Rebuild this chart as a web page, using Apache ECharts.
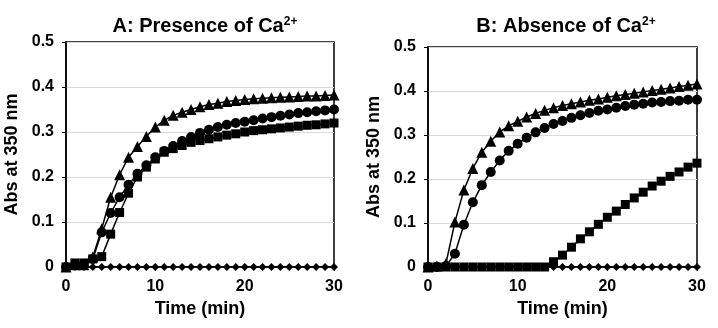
<!DOCTYPE html>
<html>
<head>
<meta charset="utf-8">
<script src="https://cdn.jsdelivr.net/npm/echarts@6/dist/echarts.min.js"></script>
<style>
  html, body { margin: 0; padding: 0; background: #fff; }
  #chart { width: 718px; height: 328px; }
</style>
</head>
<body>
<div id="chart"></div>
<script>
// time in minutes, one reading per minute
var time = [0,1,2,3,4,5,6,7,8,9,10,11,12,13,14,15,16,17,18,19,20,21,22,23,24,25,26,27,28,29,30]

// A: presence of Ca2+
var triA = [0,0.005,0.005,0.022,0.085,0.155,0.205,0.244,0.268,0.29,0.311,0.326,0.337,0.344,0.35,0.356,0.361,0.364,0.368,0.37,0.372,0.374,0.375,0.376,0.377,0.378,0.379,0.38,0.38,0.381,0.382]
var circA = [0,0.005,0.005,0.018,0.077,0.12,0.155,0.183,0.207,0.226,0.244,0.258,0.269,0.28,0.289,0.298,0.305,0.311,0.316,0.32,0.323,0.326,0.33,0.333,0.336,0.339,0.342,0.344,0.346,0.348,0.35]
var sqA = [0,0.009,0.009,0.018,0.023,0.073,0.121,0.164,0.2,0.222,0.24,0.255,0.263,0.27,0.277,0.281,0.285,0.289,0.293,0.296,0.3,0.303,0.305,0.307,0.309,0.311,0.313,0.315,0.316,0.318,0.32]
var diaA = [0,0,0,0,0,0,0,0,0,0,0,0,0,0,0,0,0,0,0,0,0,0,0,0,0,0,0,0,0,0,0]

// B: absence of Ca2+
var triB = [0,0.002,0.008,0.102,0.175,0.224,0.261,0.286,0.307,0.321,0.331,0.341,0.349,0.356,0.362,0.367,0.371,0.375,0.379,0.382,0.386,0.389,0.392,0.395,0.398,0.401,0.404,0.407,0.41,0.413,0.416]
var circB = [0,0,0.002,0.03,0.096,0.147,0.186,0.216,0.242,0.264,0.28,0.294,0.306,0.316,0.325,0.332,0.339,0.345,0.35,0.355,0.358,0.362,0.366,0.369,0.371,0.374,0.375,0.377,0.378,0.38,0.38]
var sqB = [0,0,0,0,0,0,0,0,0,0,0,0,0,0,0.012,0.027,0.045,0.064,0.08,0.097,0.113,0.127,0.142,0.157,0.17,0.184,0.195,0.206,0.216,0.227,0.236]
var diaB = [0,0,0,0,0,0,0,0,0,0,0,0,0,0,0,0,0,0,0,0,0,0,0,0,0,0,0,0,0,0,0]

var xTicks = [0, 10, 20, 30]
var yTicks = [0, 0.1, 0.2, 0.3, 0.4, 0.5]

var FONT = '"Liberation Sans", Arial, sans-serif'

function pairs(arr){
  return time.map(function(t, i){ return [t, arr[i]] })
}

function xAxisFor(idx){
  return {
    type: 'value', gridIndex: idx,
    min: xTicks[0], max: xTicks[xTicks.length-1], interval: 10,
    name: 'Time (min)', nameLocation: 'middle', nameGap: 32,
    nameTextStyle: { fontFamily: FONT, fontWeight: 'bold', fontSize: 18, color: '#000' },
    axisLine: { lineStyle: { color: '#000', width: 1.5 } },
    axisTick: { show: true, length: 4, lineStyle: { color: '#000' } },
    axisLabel: { margin: 12, fontFamily: FONT, fontWeight: 'bold', fontSize: 16, color: '#000' },
    splitLine: { show: false }
  }
}

function yAxisFor(idx){
  return {
    type: 'value', gridIndex: idx,
    min: yTicks[0], max: yTicks[yTicks.length-1], interval: 0.1,
    name: 'Abs at 350 nm', nameLocation: 'middle', nameGap: 45,
    nameTextStyle: { fontFamily: FONT, fontWeight: 'bold', fontSize: 18, color: '#000' },
    axisLine: { show: true, lineStyle: { color: '#000', width: 1.5 } },
    axisTick: { show: true, length: 4, lineStyle: { color: '#000' } },
    axisLabel: { margin: 12, fontFamily: FONT, fontWeight: 'bold', fontSize: 16, color: '#000' },
    splitLine: { show: true, lineStyle: { color: '#d9d9d9', width: 1 } }
  }
}

function line(idx, arr, symbol, size){
  return {
    type: 'line', xAxisIndex: idx, yAxisIndex: idx,
    data: pairs(arr),
    symbol: symbol, symbolSize: size, showSymbol: true,
    lineStyle: { color: '#000', width: 1.5 },
    itemStyle: { color: '#000', borderWidth: 0 },
    animation: false
  }
}

var titleStyle = {
  fontFamily: FONT, fontWeight: 'bold', fontSize: 20, color: '#000',
  rich: {
    sup: { fontFamily: FONT, fontWeight: 'bold', fontSize: 12, color: '#000', verticalAlign: 'top', padding: [0,0,8,0] }
  }
}

var chart = echarts.init(document.getElementById('chart'), null, { renderer: 'canvas' })
var option = {
  backgroundColor: '#fff',
  title: [
    { text: 'A: Presence of Ca{sup|2+}', left: 200, top: 11, textAlign: 'center', textStyle: titleStyle },
    { text: 'B: Absence of Ca{sup|2+}', left: 561, top: 11, textAlign: 'center', textStyle: titleStyle }
  ],
  grid: [
    { left: 66, top: 42, width: 268, height: 225, show: true, borderColor: '#000', borderWidth: 1.5 },
    { left: 428, top: 47, width: 269, height: 220, show: true, borderColor: '#000', borderWidth: 1.5 }
  ],
  xAxis: [xAxisFor(0), xAxisFor(1)],
  yAxis: [yAxisFor(0), yAxisFor(1)],
  series: [
    line(0, diaA, 'diamond', 8),
    line(0, sqA, 'rect', 9),
    line(0, circA, 'circle', 10),
    line(0, triA, 'triangle', 11),
    line(1, diaB, 'diamond', 8),
    line(1, sqB, 'rect', 9),
    line(1, circB, 'circle', 10),
    line(1, triB, 'triangle', 11)
  ]
}
chart.setOption(option)
</script>
</body>
</html>
